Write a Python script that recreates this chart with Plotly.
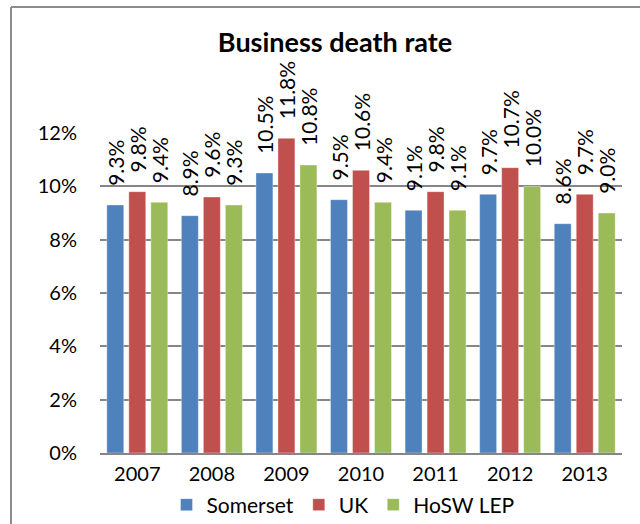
import plotly.graph_objects as go

years = ["2007", "2008", "2009", "2010", "2011", "2012", "2013"]
somerset = [0.093, 0.089, 0.105, 0.095, 0.091, 0.097, 0.086]
uk = [0.098, 0.096, 0.118, 0.106, 0.098, 0.107, 0.097]
hosw = [0.094, 0.093, 0.108, 0.094, 0.091, 0.100, 0.090]
series_names = ["Somerset", "UK", "HoSW LEP"]
colors = ["#4F81BD", "#C0504D", "#9BBB59"]

FONT = "Lato"
PAD = "\u00a0\u00a0\u00a0"

fig = go.Figure()
for name, vals, col in zip(series_names, [somerset, uk, hosw], colors):
    fig.add_trace(go.Bar(
        x=years, y=vals, name=name,
        marker=dict(color=col, line=dict(color="rgba(255,255,255,0.6)", width=0.6)),
        text=[f"{PAD}{v*100:.1f}%" for v in vals],
        textposition="outside", textangle=-90,
        constraintext="none", cliponaxis=False,
        textfont=dict(family=FONT, size=21, color="black"),
    ))

L, R, T, B = 100, 18, 133, 71
W, H = 640, 524
pw, ph = W - L - R, H - T - B

def px_x(px):
    return (px - L) / pw

def px_y(py):
    return (H - B - py) / ph

fig.update_layout(
    width=W, height=H,
    margin=dict(l=L, r=R, t=T, b=B, autoexpand=False),
    paper_bgcolor="white", plot_bgcolor="white",
    barmode="group", bargap=0.115, bargroupgap=0.23,
    title=dict(text="<b>Business death rate</b>", x=335 / W, xref="container",
               xanchor="center", y=1 - 43 / H, yref="container", yanchor="middle",
               font=dict(family=FONT, size=27, color="black")),
    font=dict(family=FONT, color="black"),
    showlegend=True,
    legend=dict(orientation="h", x=px_x(343), xanchor="center", y=px_y(505),
                yanchor="middle", font=dict(family=FONT, size=21, color="black"),
                bgcolor="rgba(0,0,0,0)", itemwidth=30, traceorder="normal"),
    xaxis=dict(showgrid=False, showline=True, linecolor="#868686", linewidth=2,
               ticks="", tickfont=dict(family=FONT, size=20, color="black"),
               ticklabelstandoff=2),
    yaxis=dict(range=[0, 0.12], dtick=0.02, tickformat=".0%", showgrid=True,
               gridcolor="#868686", gridwidth=1.5, zeroline=False, showline=False,
               ticks="", tickfont=dict(family=FONT, size=20, color="black"),
               ticklabelstandoff=22),
    shapes=[
        dict(type="line", xref="paper", yref="paper", x0=px_x(11), x1=px_x(700),
             y0=px_y(7), y1=px_y(7), line=dict(color="#8C8C8C", width=2)),
        dict(type="line", xref="paper", yref="paper", x0=px_x(11), x1=px_x(11),
             y0=px_y(7), y1=px_y(600), line=dict(color="#8C8C8C", width=2)),
    ],
)

fig.write_html("out.html", config={"displayModeBar": False},
               post_script="document.body.style.margin='0px';")
